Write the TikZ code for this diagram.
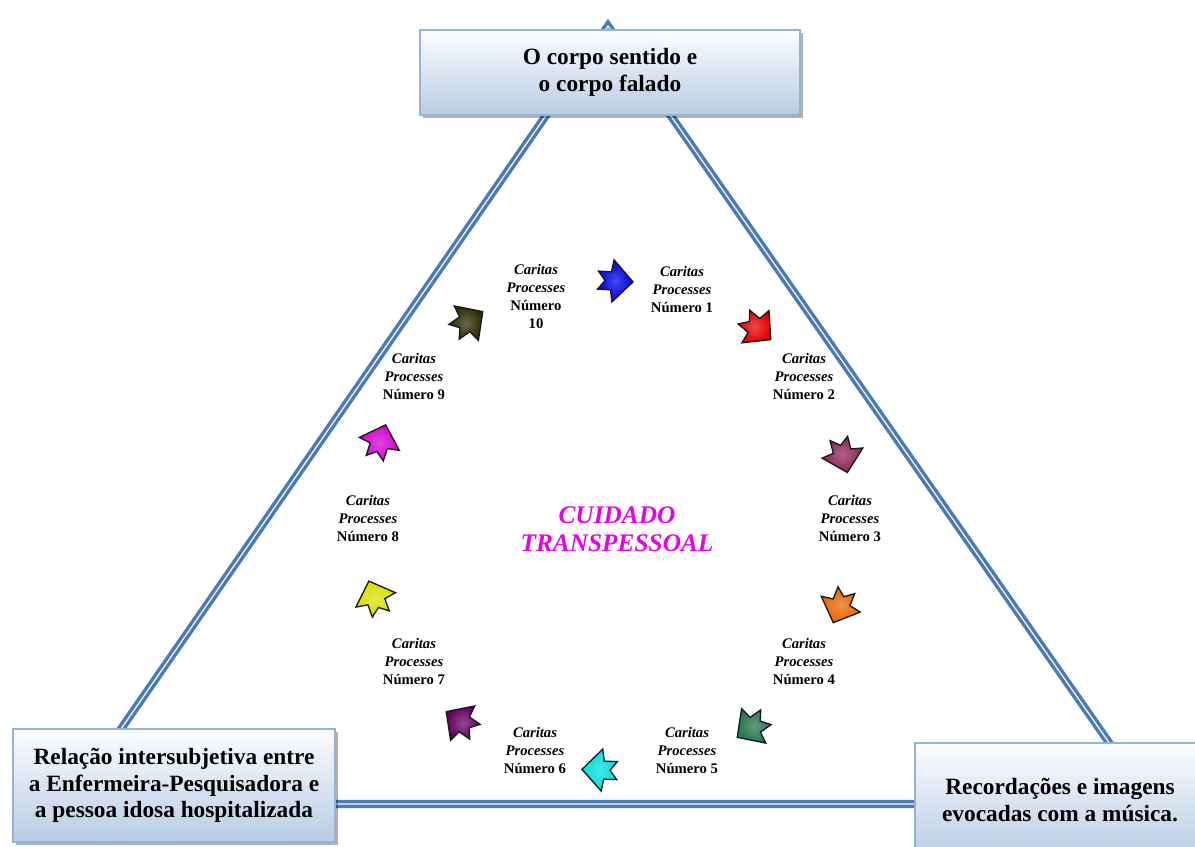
\documentclass[tikz,border=0pt]{standalone}
\usepackage{fontspec}
\setmainfont{Liberation Serif}
\usetikzlibrary{shadows}

\definecolor{triline}{RGB}{74,122,184}
\definecolor{boxtop}{RGB}{252,253,255}
\definecolor{boxbot}{RGB}{184,204,228}
\definecolor{boxedge}{RGB}{149,179,215}
\definecolor{coretext}{RGB}{232,0,232}
\definecolor{ablue}{RGB}{0,0,225}
\definecolor{ared}{RGB}{228,0,0}
\definecolor{amaroon}{RGB}{140,36,88}
\definecolor{aorange}{RGB}{232,102,0}
\definecolor{agreen}{RGB}{36,118,78}
\definecolor{acyan}{RGB}{0,222,222}
\definecolor{apurple}{RGB}{98,0,98}
\definecolor{ayellow}{RGB}{222,222,0}
\definecolor{amagenta}{RGB}{212,0,212}
\definecolor{adark}{RGB}{44,44,6}

\tikzset{
  triside/.style={draw=triline, line width=2.6pt, double=white,
    double distance=0.9pt, line join=miter},
  themebox/.style={draw=boxedge, line width=0.8pt, top color=boxtop,
    bottom color=boxbot, align=center, inner sep=0pt,
    drop shadow={shadow xshift=2pt, shadow yshift=-2pt, fill=black, opacity=0.3},
    font=\fontsize{17.5}{20}\selectfont\bfseries},
  caritas/.style={align=center, inner sep=0pt,
    font=\fontsize{11}{13.5}\selectfont\bfseries},
  coretitle/.style={align=center, inner sep=0pt, text=coretext,
    font=\fontsize{19}{21}\selectfont\bfseries\itshape},
  cparrow/.pic={
    \draw[line width=1pt, draw=black!90, inner color=#1!72!white, outer color=#1]
      (18,0) -- (-2,-21) -- (-4,-9) -- (-17,-9) -- (-10,0) -- (-17,9)
      -- (-4,9) -- (-2,21) -- cycle;
  }
}

\begin{document}
\begin{tikzpicture}[x=0.75pt,y=-0.75pt]
\path[use as bounding box, clip] (0,0) rectangle (1195,846);
\fill[white] (0,0) rectangle (1195,846);

% triangle frame behind the three theme boxes
\coordinate (apex) at (608,26);
\coordinate (vl) at (69,804);
\coordinate (vr) at (1152,804);
\draw[triside] (apex) -- (vl) -- (vr) -- cycle;

% theme boxes at the corners
\node[themebox, minimum width=285pt, minimum height=63.75pt] (top) at (610,72.5)
  {O corpo sentido e\\o corpo falado};
\node[themebox, minimum width=241.5pt, minimum height=84.75pt] (left) at (174,785.5)
  {Relação intersubjetiva entre\\a Enfermeira-Pesquisadora e\\a pessoa idosa hospitalizada};
\node[themebox, minimum width=217.5pt, minimum height=85.5pt] (right) at (1060,800)
  {Recordações e imagens\\evocadas com a música.};

% centre title
\node[coretitle] (core) at (617,529) {CUIDADO\\TRANSPESSOAL};

% the ten caritas processes
\node[caritas] (c1) at (682,289) {\textit{Caritas}\\\textit{Processes}\\Número 1};
\node[caritas] (c2) at (804,376) {\textit{Caritas}\\\textit{Processes}\\Número 2};
\node[caritas] (c3) at (850,518) {\textit{Caritas}\\\textit{Processes}\\Número 3};
\node[caritas] (c4) at (804,661) {\textit{Caritas}\\\textit{Processes}\\Número 4};
\node[caritas] (c5) at (687,750) {\textit{Caritas}\\\textit{Processes}\\Número 5};
\node[caritas] (c6) at (535,750) {\textit{Caritas}\\\textit{Processes}\\Número 6};
\node[caritas] (c7) at (414,661) {\textit{Caritas}\\\textit{Processes}\\Número 7};
\node[caritas] (c8) at (368,518) {\textit{Caritas}\\\textit{Processes}\\Número 8};
\node[caritas] (c9) at (414,376) {\textit{Caritas}\\\textit{Processes}\\Número 9};
\node[caritas] (c10) at (536,296) {\textit{Caritas}\\\textit{Processes}\\Número\\10};

% clockwise arrows between the processes
\pic[rotate=-3] (a1) at (615,281) {cparrow=ablue};
\pic[rotate=-40] (a2) at (757,328) {cparrow=ared};
\pic[rotate=-76] (a3) at (843,455) {cparrow=amaroon};
\pic[rotate=-112] (a4) at (840,606) {cparrow=aorange};
\pic[rotate=-145] (a5) at (752,727) {cparrow=agreen};
\pic[rotate=178] (a6) at (600,770) {cparrow=acyan};
\pic[rotate=145] (a7) at (461,722) {cparrow=apurple};
\pic[rotate=110] (a8) at (375,598) {cparrow=ayellow};
\pic[rotate=72] (a9) at (380,442) {cparrow=amagenta};
\pic[rotate=35] (a10) at (468,322) {cparrow=adark};
\end{tikzpicture}
\end{document}
